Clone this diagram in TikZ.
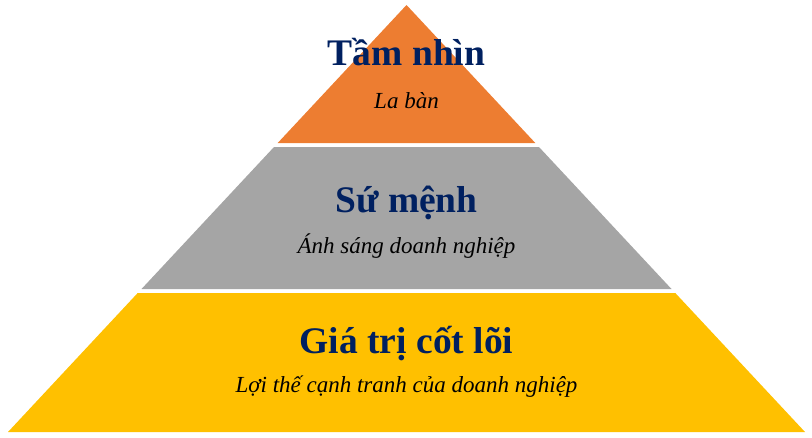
\documentclass[tikz,border=0pt]{standalone}
\usepackage{fontspec}
\setmainfont{Liberation Serif}
\usepackage{xcolor}
\usepackage{tikz}
\definecolor{tierorange}{HTML}{ED7D31}
\definecolor{tiergray}{HTML}{A5A5A5}
\definecolor{tieryellow}{HTML}{FFC000}
\definecolor{titleblue}{HTML}{002060}
\tikzset{ tier_title/.style = {anchor=base, inner sep=0pt, text=titleblue, font=\fontsize{37.5}{42}\selectfont\bfseries} }
\tikzset{ tier_sub/.style = {anchor=base, inner sep=0pt, text=black, font=\fontsize{23}{26}\selectfont\itshape} }

\begin{document}
\begin{tikzpicture}[x=1pt, y=-1pt]
            \useasboundingbox (0, 0) rectangle (812, 437);
            \fill [tierorange] (406.5, 5) -- (535.3, 143) -- (277.7, 143) -- cycle;
            \fill [tiergray] (274, 147) -- (539, 147) -- (671.5, 289) -- (141.5, 289) -- cycle;
            \fill [tieryellow] (137.7, 293) -- (675.3, 293) -- (805, 432) -- (8, 432) -- cycle;
            \node [tier_title] (vision) at (406.5, 65) {Tầm nhìn};
            \node [tier_sub] (compass) at (406.5, 108) {La bàn};
            \node [tier_title] (mission) at (406.5, 212) {Sứ mệnh};
            \node [tier_sub] (light) at (406.5, 253) {Ánh sáng doanh nghiệp};
            \node [tier_title] (values) at (406.5, 353) {Giá trị cốt lõi};
            \node [tier_sub] (edge) at (406.5, 392) {Lợi thế cạnh tranh của doanh nghiệp};
        \end{tikzpicture}
\end{document}
